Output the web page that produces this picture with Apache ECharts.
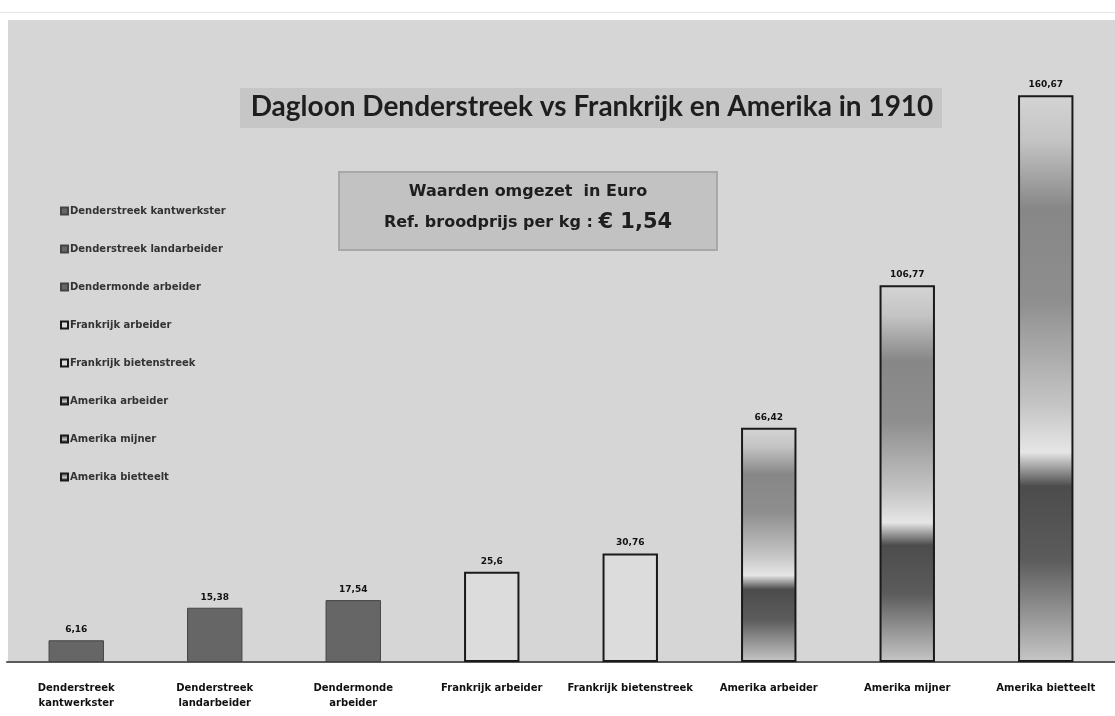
<!DOCTYPE html>
<html>
<head>
<meta charset="utf-8">
<script src="https://cdn.jsdelivr.net/npm/echarts@6/dist/echarts.min.js"></script>
<style>
  html, body { margin: 0; padding: 0; background: #fff; }
  #main { width: 1115px; height: 716px; }
</style>
</head>
<body>
<div id="main"></div>
<script>
// categories (x-axis) and legend names
var categories = [
    "Denderstreek\nkantwerkster", "Denderstreek\nlandarbeider", "Dendermonde\narbeider",
    "Frankrijk arbeider", "Frankrijk bietenstreek", "Amerika arbeider",
    "Amerika mijner", "Amerika bietteelt"
];
var legendNames = [
    "Denderstreek kantwerkster", "Denderstreek landarbeider", "Dendermonde arbeider",
    "Frankrijk arbeider", "Frankrijk bietenstreek", "Amerika arbeider",
    "Amerika mijner", "Amerika bietteelt"
];
// dagloon in euro
var values = [6.16, 15.38, 17.54, 25.6, 30.76, 66.42, 106.77, 160.67];

function dark() { return { color: "#666666", borderColor: "#444444", borderWidth: 1 }; }
function light() { return { color: "#dcdcdc", borderColor: "#1a1a1a", borderWidth: 2 }; }
function grad() {
    return {
        color: new echarts.graphic.LinearGradient(0, 0, 0, 1, [
            { offset: 0, color: "#d4d4d4" },
            { offset: 0.08, color: "#c4c4c4" },
            { offset: 0.2, color: "#878787" },
            { offset: 0.36, color: "#8e8e8e" },
            { offset: 0.55, color: "#c6c6c6" },
            { offset: 0.63, color: "#e6e6e6" },
            { offset: 0.69, color: "#4c4c4c" },
            { offset: 0.82, color: "#5c5c5c" },
            { offset: 1, color: "#c6c6c6" }
        ]),
        borderColor: "#1a1a1a", borderWidth: 2
    };
}
var styles = [dark(), dark(), dark(), light(), light(), grad(), grad(), grad()];

function fmt(v) { return String(v).replace(".", ","); }

var series = values.map(function (v, i) {
    var d = values.map(function (_, j) { return j === i ? v : "-"; });
    return {
        name: legendNames[i],
        type: "bar",
        stack: "dagloon",
        barWidth: "40%",
        itemStyle: styles[i],
        emphasis: { disabled: true },
        label: {
            show: true, position: "top", distance: 6,
            fontSize: 9, fontWeight: "bold", color: "#111",
            fontFamily: "DejaVu Sans",
            formatter: function (p) { return fmt(p.value); }
        },
        data: d
    };
});

var option = {
    animation: false,
    backgroundColor: "#ffffff",
    textStyle: { fontFamily: "DejaVu Sans" },
    graphic: [
        { type: "rect", z: -10, shape: { x: 8, y: 20, width: 1107, height: 642 }, style: { fill: "#d6d6d6" } },
        { type: "rect", z: -10, shape: { x: 0, y: 12, width: 1115, height: 1 }, style: { fill: "#e6e6e6" } },
        { type: "rect", z: 1, shape: { x: 240, y: 88, width: 702, height: 40 }, style: { fill: "#c6c6c6" } },
        { type: "text", z: 2, style: {
            x: 592, y: 107,
            text: "Dagloon Denderstreek vs Frankrijk en Amerika in 1910",
            font: "bold 28px Lato", fill: "#1e1e1e", textAlign: "center", textVerticalAlign: "middle"
        } },
        { type: "rect", z: 1, shape: { x: 339, y: 172, width: 378, height: 78 },
          style: { fill: "#c2c2c2", stroke: "#a8a8a8", lineWidth: 2 } },
        { type: "text", z: 2, style: {
            x: 528, y: 192, text: "Waarden omgezet  in Euro",
            font: "bold 16px 'DejaVu Sans'", fill: "#1e1e1e", textAlign: "center", textVerticalAlign: "middle"
        } },
        { type: "text", z: 2, style: {
            x: 528, y: 223,
            text: "{a|Ref. broodprijs per kg : }{b|€ 1,54}",
            rich: {
                a: { font: "bold 16px 'DejaVu Sans'", fill: "#1e1e1e" },
                b: { font: "bold 21px 'DejaVu Sans'", fill: "#1e1e1e" }
            },
            textAlign: "center", textVerticalAlign: "middle"
        } }
    ],
    legend: {
        orient: "vertical",
        left: 55, top: 201,
        icon: "rect",
        itemWidth: 7, itemHeight: 7,
        itemGap: 28,
        selectedMode: false,
        textStyle: { fontSize: 10, fontWeight: "bold", color: "#333", padding: [0, 0, 0, -3] },
        data: legendNames
    },
    grid: { left: 7, right: -11, top: 27, bottom: 54, containLabel: false },
    xAxis: {
        type: "category",
        data: categories,
        axisLine: { lineStyle: { color: "#5a5a5a", width: 2 } },
        axisTick: { show: false },
        axisLabel: {
            interval: 0, margin: 19, lineHeight: 15,
            fontSize: 10, fontWeight: "bold", color: "#111"
        }
    },
    yAxis: {
        type: "value", min: 0, max: 180, show: false,
        splitLine: { show: false }
    },
    series: series
};

echarts.init(document.getElementById("main")).setOption(option);
</script>
</body>
</html>
